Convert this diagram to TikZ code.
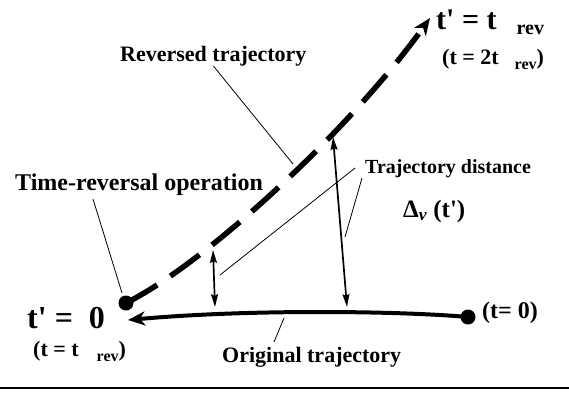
\documentclass[tikz,border=0pt]{standalone}
\usepackage{fontspec}
\newfontfamily\lblfont{Liberation Serif}
\usetikzlibrary{arrows.meta,positioning}

\newcommand{\fsz}[1]{\fontsize{#1}{#1}\selectfont}
\newcommand{\revsub}[2]{\raisebox{-#1}{\fsz{#2}rev}}

\begin{document}
\begin{tikzpicture}[
    x=1pt, y=1pt,
    every node/.style={font=\lblfont\bfseries, inner sep=0pt},
    txt/.style={anchor=base west},
    dotnode/.style={circle, fill=black, minimum size=15pt},
    origline/.style={line width=4pt, -{Stealth[length=17pt, width=14pt, inset=5pt]}},
    revline/.style={line width=5.5pt, dash pattern=on 36pt off 16pt,
      -{Stealth[length=17pt, width=14pt, inset=5pt]}},
    distarr/.style={line width=1.7pt,
      {Stealth[length=13pt, width=7pt, inset=2pt]}-{Stealth[length=13pt, width=7pt, inset=2pt]}},
    leader/.style={line width=0.8pt}
  ]
    \useasboundingbox (0,0) rectangle (569,-396);

    % End points of the two trajectories
    \node[dotnode] (trev) at (126,-303) {};
    \node[dotnode] (tzero) at (468,-317) {};
    \coordinate (origtip) at (128,-320);
    \coordinate (revtip) at (430,-18);

    % Trajectories
    \draw[origline] (tzero.center) .. controls (400,-311) and (250,-309) .. (origtip);
    \draw[revline] (trev.center) .. controls (206,-263) and (350,-130) .. (revtip);

    % Distance arrows
    \coordinate (dista) at (213,-250);
    \coordinate (distb) at (215,-307);
    \coordinate (distc) at (333,-137);
    \coordinate (distd) at (347,-307);
    \draw[distarr] (dista) -- (distb);
    \draw[distarr] (distc) -- (distd);

    % Labels
    \node[txt, font=\lblfont\bfseries\fsz{30}] (endlbl) at (436,-30)
      {t' = t\hspace{20pt}\revsub{5pt}{20}};
    \node[txt, font=\lblfont\bfseries\fsz{22}] (endtime) at (442,-64)
      {(t = 2t\hspace{16pt}\revsub{5pt}{16})};
    \node[txt, font=\lblfont\bfseries\fsz{22}] (revlbl) at (120,-61) {Reversed trajectory};
    \node[txt, font=\lblfont\bfseries\fsz{24}] (oplbl) at (15,-190) {Time-reversal operation};
    \node[txt, font=\lblfont\bfseries\fsz{20}] (distlbl) at (365,-173) {Trajectory distance};
    \node[txt, font=\lblfont\bfseries\fsz{25}] (deltalbl) at (403,-217)
      {Δ\textsubscript{\itshape ν} (t')};
    \node[txt, font=\lblfont\bfseries\fsz{32}] (startlbl) at (27,-328) {t' =\ \ 0};
    \node[txt, font=\lblfont\bfseries\fsz{22}] (starttime) at (33,-356)
      {(t = t\hspace{18pt}\revsub{5pt}{16})};
    \node[txt, font=\lblfont\bfseries\fsz{24}] (zerolbl) at (482,-318) {(t= 0)};
    \node[txt, font=\lblfont\bfseries\fsz{22}] (origlbl) at (222,-362) {Original trajectory};

    % Leader lines
    \coordinate (revpt) at (293,-164);
    \coordinate (opa) at (93,-199);
    \coordinate (opb) at (122,-293);
    \coordinate (disla) at (355,-168);
    \coordinate (dislb) at (220,-275);
    \coordinate (dislc) at (362,-178);
    \coordinate (disld) at (345,-237);
    \coordinate (origa) at (284,-318);
    \coordinate (origb) at (274,-342);
    \draw[leader] (revlbl.south) -- (revpt);
    \draw[leader] (opa) -- (opb);
    \draw[leader] (disla) -- (dislb);
    \draw[leader] (dislc) -- (disld);
    \draw[leader] (origa) -- (origb);

    % Bottom rule
    \draw[line width=1.5pt] (0,-388) -- (569,-388);
\end{tikzpicture}
\end{document}
